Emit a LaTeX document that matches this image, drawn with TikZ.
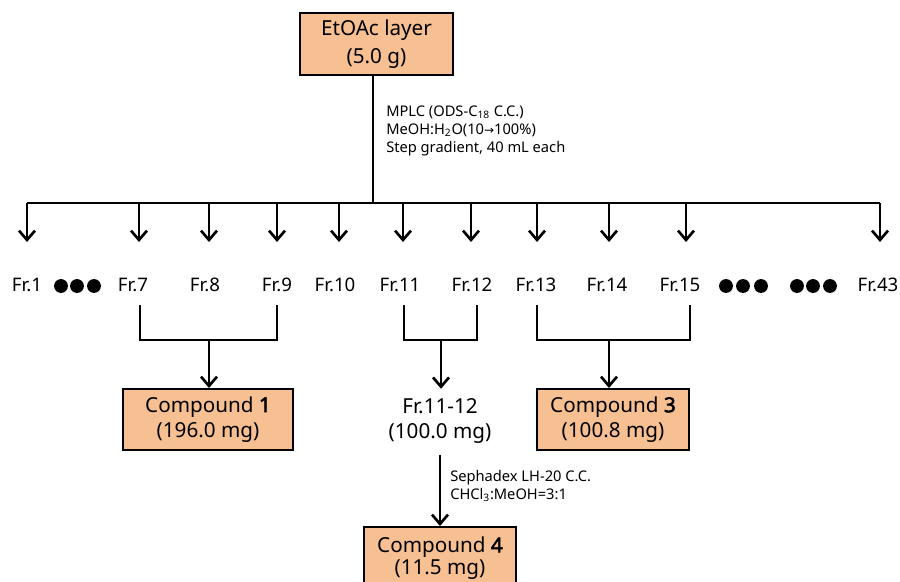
\documentclass[tikz,border=0pt]{standalone}
\usepackage{fontspec}
\setmainfont{Noto Sans}[AutoFakeBold=2.5]
\newfontfamily\symfont{DejaVu Sans}
\usetikzlibrary{arrows.meta,positioning}
\definecolor{boxfill}{RGB}{247,192,146}
\tikzset{
    link/.style={line width=2pt},
    arr/.style={line width=2pt, -{Straight Barb[length=7pt,width=12pt]}},
    cbox/.style={draw, line width=1.5pt, fill=boxfill, align=center, inner sep=0pt,
        font=\fontsize{15.5}{19}\selectfont},
    frlabel/.style={inner sep=0pt, font=\fontsize{14}{18}\selectfont},
    note/.style={anchor=west, align=left, inner sep=0pt, font=\fontsize{11}{13.5}\selectfont}
}
\begin{document}
\begin{tikzpicture}[x=0.75pt, y=-0.75pt]
        \useasboundingbox (0,0) rectangle (900,582);
        % top box and the bus line
        \node[cbox, minimum width=114.75pt, minimum height=46.5pt,
            font=\fontsize{15.5}{21}\selectfont] (etoac) at (376.5,44) {EtOAc layer\\(5.0 g)};
        \coordinate (busL) at (27,203);
        \coordinate (busR) at (880,203);
        \coordinate (busM) at (373,203);
        \draw[link] (etoac.south -| busM) -- (busM);
        \draw[link] (busL) -- (busR);
        \node[note] (mplc) at (386,131)
            {MPLC (ODS-C\textsubscript{18} C.C.)\\MeOH:H\textsubscript{2}O(10{\symfont\fontsize{9}{10}\selectfont →}100\%)\\Step gradient, 40 mL each};
        % fractions
        \foreach \ax/\lx/\t/\n in {27/27/Fr.1/f1, 139/133/Fr.7/f7, 209/205/Fr.8/f8,
                277/277/Fr.9/f9, 339/335/Fr.10/f10, 403/400/Fr.11/f11, 471/472/Fr.12/f12,
                537/536/Fr.13/f13, 609/607/Fr.14/f14, 686/680/Fr.15/f15, 880/878/Fr.43/f43}
        {
            \coordinate (a\n) at (\ax,203);
            \draw[arr] (a\n) -- ++(0,39);
            \node[frlabel] (\n) at (\lx,285) {\t};
        }
        \foreach \x in {61, 77, 94, 726, 743, 761, 797, 813, 830}
        {
            \fill (\x,286) circle (5.2pt);
        }
        % result boxes
        \node[cbox, minimum width=127.5pt, minimum height=45.75pt] (cmp1) at (208,419.5) {Compound \textbf{1}\\(196.0 mg)};
        \node[cbox, minimum width=114pt, minimum height=45.75pt] (cmp3) at (613,419.5) {Compound \textbf{3}\\(100.8 mg)};
        \node[align=center, inner sep=0pt, font=\fontsize{15.5}{19}\selectfont] (fr1112) at (440,421) {Fr.11-12\\(100.0 mg)};
        \node[cbox, minimum width=114pt, minimum height=46.5pt,
            font=\fontsize{15.5}{16.5}\selectfont] (cmp4) at (440,558) {Compound \textbf{4}\\(11.5 mg)};
        % brackets
        \coordinate (j1) at (209,340);
        \coordinate (j2) at (441,340);
        \coordinate (j3) at (609,340);
        \draw[link] (140,305) |- (277,340) -- (277,305);
        \draw[link] (404,305) |- (477,340) -- (477,305);
        \draw[link] (537,305) |- (690,340) -- (690,305);
        \draw[arr] (j1) -- (j1 |- cmp1.north);
        \draw[arr, shorten >=7pt] (j2) -- (j2 |- fr1112.north);
        \draw[arr] (j3) -- (j3 |- cmp3.north);
        \draw[arr] ([yshift=-8pt]fr1112.south) -- (cmp4.north);
        \node[note] (seph) at (450,486) {Sephadex LH-20 C.C.\\CHCl\textsubscript{3}:MeOH=3:1};
    \end{tikzpicture}
\end{document}
